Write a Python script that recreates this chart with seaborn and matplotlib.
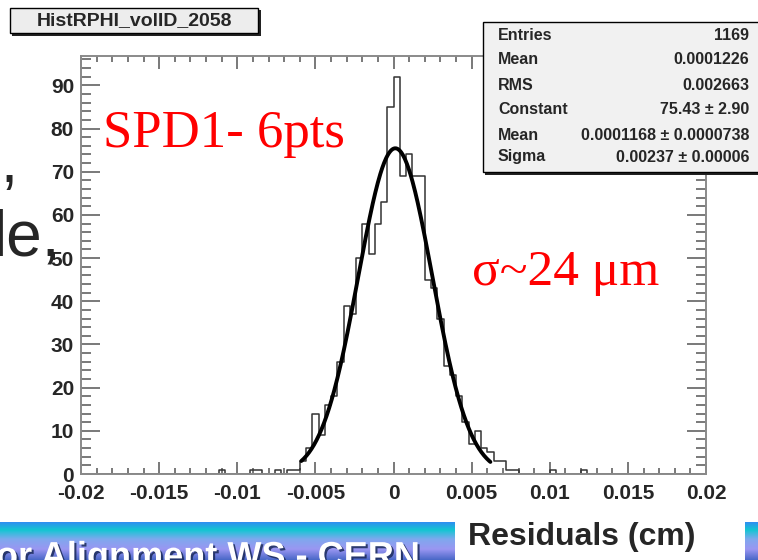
import numpy as np
import pandas as pd
import matplotlib
matplotlib.use("Agg")
import matplotlib.pyplot as plt
import seaborn as sns
from matplotlib.patches import Rectangle
from matplotlib.colors import LinearSegmentedColormap
from matplotlib.ticker import MultipleLocator
import matplotlib.patheffects as pe

W, H = 758, 560

# histogram: 100 bins over [-0.02, 0.02]; non-empty bins (index) and their counts
x_lo, x_hi, n_bins = -0.02, 0.02, 100
bin_index = [22, 27, 28, 31, 33, 34, 35, 36, 37, 38, 39, 40, 41, 42, 43, 44, 45, 46, 47, 48,
             49, 50, 51, 52, 53, 54, 55, 56, 57, 58, 59, 60, 61, 62, 63, 64, 65, 66, 67, 68,
             69, 75, 80]
bin_count = [1, 1, 1, 1, 1, 1, 3, 6, 14, 9, 16, 18, 26, 39, 37, 50, 58, 51, 58, 63,
             85, 92, 69, 74, 69, 69, 45, 43, 36, 25, 23, 18, 12, 7, 10, 6, 5, 3, 3, 1,
             1, 1, 1]

# gaussian fit shown in the stats box
fit_const, fit_mean, fit_sigma = 75.43, 0.0001168, 0.00237
fit_range = (-0.0059, 0.0062)

x_ticks = [-0.02, -0.015, -0.01, -0.005, 0, 0.005, 0.01, 0.015, 0.02]
x_tick_labels = ["-0.02", "-0.015", "-0.01", "-0.005", "0", "0.005", "0.01", "0.015", "0.02"]
y_ticks = [0, 10, 20, 30, 40, 50, 60, 70, 80, 90]

stats_names = ["Entries", "Mean", "RMS", "Constant", "Mean", "Sigma"]
stats_values = ["1169", "0.0001226", "0.002663", "75.43 \u00b1 2.90",
                "0.0001168 \u00b1 0.0000738", "0.00237 \u00b1 0.00006"]

sns.set_style("ticks")
plt.rcParams["font.family"] = ["Liberation Sans", "DejaVu Sans"]
plt.rcParams["axes.unicode_minus"] = False


def fx(px):
    return px / W


def fy(py):
    return 1 - py / H


width = (x_hi - x_lo) / n_bins
centers = x_lo + width * (np.arange(n_bins) + 0.5)
counts = np.zeros(n_bins)
counts[bin_index] = bin_count
hist_df = pd.DataFrame({"x": centers, "n": counts})

xf = np.linspace(fit_range[0], fit_range[1], 300)
fit_df = pd.DataFrame({"x": xf, "y": fit_const * np.exp(-0.5 * ((xf - fit_mean) / fit_sigma) ** 2)})

fig = plt.figure(figsize=(W / 100, H / 100), dpi=100)
fig.patch.set_facecolor("white")
ax = fig.add_axes([fx(81), fy(474), fx(706) - fx(81), fy(56) - fy(474)])

sns.histplot(data=hist_df, x="x", weights="n", bins=n_bins, binrange=(x_lo, x_hi),
             element="step", fill=False, color="#333333", linewidth=1.1, ax=ax)
sns.lineplot(data=fit_df, x="x", y="y", color="black", linewidth=2.8, ax=ax)

ax.set_xlim(x_lo, x_hi)
ax.set_ylim(0, 96.8)
ax.set_xlabel("")
ax.set_ylabel("")
ax.set_xticks(x_ticks)
ax.set_xticklabels(x_tick_labels)
ax.set_yticks(y_ticks)
ax.xaxis.set_minor_locator(MultipleLocator(0.001))
ax.yaxis.set_minor_locator(MultipleLocator(2))
for s in ax.spines.values():
    s.set_color("#8a8a8a")
    s.set_linewidth(1.4)
ax.tick_params(which="both", direction="in", top=True, right=True, color="#6e6e6e", width=1.3)
ax.tick_params(axis="x", which="major", length=9, pad=7)
ax.tick_params(axis="x", which="minor", length=4.5)
ax.tick_params(axis="y", which="major", length=14, pad=5)
ax.tick_params(axis="y", which="minor", length=7)
for lab in ax.get_xticklabels() + ax.get_yticklabels():
    lab.set_fontweight("bold")
    lab.set_fontsize(15)

# red annotations
ax.text(fx(103), fy(147), "SPD1- 6pts", transform=fig.transFigure, color="#ff0000",
        family="Liberation Serif", fontsize=38, ha="left", va="baseline")
ax.text(fx(472), fy(285), "\u03c3~24 \u03bcm", transform=fig.transFigure, color="#ff0000",
        family="Liberation Serif", fontsize=37, ha="left", va="baseline")

# title box
fig.patches.append(Rectangle((fx(12), fy(36)), fx(249), fy(10) - fy(36), transform=fig.transFigure,
                             facecolor="#222222", edgecolor="none", zorder=5))
fig.patches.append(Rectangle((fx(10), fy(33)), fx(248), fy(8) - fy(33), transform=fig.transFigure,
                             facecolor="#ededed", edgecolor="black", linewidth=1, zorder=6))
fig.text(fx(134), fy(21), "HistRPHI_volID_2058", fontsize=14, fontweight="bold",
         ha="center", va="center", zorder=7)

# stats box
fig.patches.append(Rectangle((fx(485), fy(175)), fx(280), fy(24) - fy(175), transform=fig.transFigure,
                             facecolor="#222222", edgecolor="none", zorder=5))
fig.patches.append(Rectangle((fx(483), fy(172)), fx(280), fy(22) - fy(172), transform=fig.transFigure,
                             facecolor="#f1f1f1", edgecolor="black", linewidth=1, zorder=6))
rows_y = [35, 60, 86, 110, 135, 157]
for name, val, ry in zip(stats_names, stats_values, rows_y):
    fig.text(fx(498), fy(ry), name, fontsize=11.5, fontweight="bold", ha="left", va="center", zorder=7)
    fig.text(fx(749), fy(ry), val, fontsize=11.5, fontweight="bold", ha="right", va="center", zorder=7)

# slide fragments on the left
fig.text(fx(18), fy(182), ",", fontsize=44, ha="right", va="baseline")
fig.text(fx(60), fy(256), "le,", fontsize=46, ha="right", va="baseline")

# bottom banner
grad = LinearSegmentedColormap.from_list(
    "banner", [(0, "#2f8ff0"), (0.2, "#12c6d2"), (0.45, "#7fa8ee"), (0.72, "#9a96f2"), (1, "#4a68c8")])
for left, right in [(0, 455), (745, 758)]:
    bax = fig.add_axes([fx(left), fy(560), fx(right) - fx(left), fy(522) - fy(560)])
    bax.imshow(np.linspace(0, 1, 64).reshape(-1, 1), aspect="auto", cmap=grad)
    bax.set_axis_off()
fig.text(fx(-4), fy(540), "or Alignment WS - CERN", fontsize=26, fontweight="bold", color="white",
         ha="left", va="top", zorder=8,
         path_effects=[pe.withSimplePatchShadow(offset=(1.5, -1.5), shadow_rgbFace="#1a2a5a", alpha=0.85)])
fig.text(fx(468), fy(537), "Residuals (cm)", fontsize=23, fontweight="bold", ha="left", va="center")

fig.savefig("out.png", dpi=100)
